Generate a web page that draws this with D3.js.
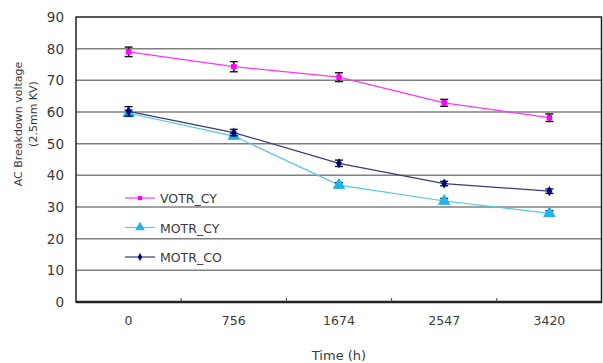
<!DOCTYPE html>
<html>
<head>
<meta charset="utf-8">
<script src="https://cdn.jsdelivr.net/npm/d3@7"></script>
<style>
  body { margin: 0; background: #fff; }
  text { font-family: "DejaVu Sans", sans-serif; fill: #3a3a3a; }
</style>
</head>
<body>
<div id="chart"></div>
<script>
// time points (h) and breakdown voltage per series
const times = ["0", "756", "1674", "2547", "3420"];
const seriesNames = ["VOTR_CY", "MOTR_CY", "MOTR_CO"];
const votrCY = [79.0, 74.3, 71.0, 62.9, 58.2];
const votrCYErr = [1.5, 1.6, 1.4, 1.1, 1.2];
const motrCY = [59.6, 52.4, 36.9, 31.9, 28.0];
const motrCYErr = [1.0, 0.8, 0.8, 0.8, 0.8];
const motrCO = [60.2, 53.5, 43.8, 37.4, 35.0];
const motrCOErr = [1.5, 1.0, 1.0, 0.7, 0.7];
const yTicks = [0, 10, 20, 30, 40, 50, 60, 70, 80, 90];

const width = 603, height = 363;
const margin = { top: 17, right: 1, bottom: 61, left: 76 };

const svg = d3.select("#chart").append("svg")
    .attr("width", width)
    .attr("height", height);

const x = d3.scaleBand()
    .domain(times)
    .range([margin.left, width - margin.right]);

const y = d3.scaleLinear()
    .domain([0, 90])
    .range([height - margin.bottom, margin.top]);

// horizontal gridlines
svg.append("g")
    .selectAll("line")
    .data(yTicks.filter(d => d > 0 && d < 90))
    .enter().append("line")
    .attr("x1", margin.left).attr("x2", width - margin.right)
    .attr("y1", d => y(d)).attr("y2", d => y(d))
    .attr("stroke", "#808080")
    .attr("stroke-width", 1.5);

// plot frame
svg.append("rect")
    .attr("x", margin.left)
    .attr("y", margin.top)
    .attr("width", width - margin.left - margin.right - 0.5)
    .attr("height", height - margin.top - margin.bottom)
    .attr("fill", "none")
    .attr("stroke", "#222")
    .attr("stroke-width", 1.5);

// bottom axis: ticks between categories, pointing up
const xAxis = svg.append("g")
    .attr("transform", `translate(0,${y(0)})`);
xAxis.append("line")
    .attr("x1", margin.left).attr("x2", width - margin.right)
    .attr("stroke", "#222").attr("stroke-width", 2.5);
xAxis.selectAll(".tick")
    .data(times.slice(1))
    .enter().append("line")
    .attr("x1", d => x(d)).attr("x2", d => x(d))
    .attr("y1", 0).attr("y2", -4)
    .attr("stroke", "#444");
xAxis.selectAll(".lbl")
    .data(times)
    .enter().append("text")
    .attr("x", d => x(d) + x.bandwidth() / 2)
    .attr("y", 23)
    .attr("text-anchor", "middle")
    .style("font-size", "12.5px")
    .text(d => d);

// y tick labels
svg.append("g")
    .selectAll("text")
    .data(yTicks)
    .enter().append("text")
    .attr("x", margin.left - 12)
    .attr("y", d => y(d) + 5)
    .attr("text-anchor", "end")
    .style("font-size", "13.5px")
    .text(d => d);

// axis titles
svg.append("text")
    .attr("x", x("1674") + x.bandwidth() / 2)
    .attr("y", 360)
    .attr("text-anchor", "middle")
    .style("font-size", "13px")
    .text("Time (h)");

const yTitle = svg.append("text")
    .attr("transform", "translate(22,124) rotate(-90)")
    .attr("text-anchor", "middle")
    .style("font-size", "11px");
yTitle.append("tspan").attr("x", 0).attr("dy", 0).text("AC Breakdown voltage");
yTitle.append("tspan").attr("x", 10).attr("dy", 15).text("(2.5mm KV)");

const series = [
    { name: seriesNames[0], values: votrCY, err: votrCYErr, line: "#ff33ff", fill: "#ff00ff", symbol: d3.symbolSquare, size: 30 },
    { name: seriesNames[1], values: motrCY, err: motrCYErr, line: "#55c8dc", fill: "#22b2ee", symbol: d3.symbolTriangle, size: 70 },
    { name: seriesNames[2], values: motrCO, err: motrCOErr, line: "#3a3a78", fill: "#000080", symbol: d3.symbolDiamond, size: 30 }
];

const cx = d => x(d) + x.bandwidth() / 2;
const line = d3.line()
    .x((v, i) => cx(times[i]))
    .y(v => y(v));

series.forEach(s => {
    const g = svg.append("g");
    g.append("path")
        .attr("d", line(s.values))
        .attr("fill", "none")
        .attr("stroke", s.line)
        .attr("stroke-width", 1.2);

    // error bars
    const eb = g.selectAll(".e")
        .data(s.values)
        .enter().append("g")
        .attr("stroke", "#111")
        .attr("stroke-width", 1.4);
    eb.append("line")
        .attr("x1", (v, i) => cx(times[i])).attr("x2", (v, i) => cx(times[i]))
        .attr("y1", (v, i) => y(v + s.err[i])).attr("y2", (v, i) => y(v - s.err[i]));
    eb.append("line")
        .attr("x1", (v, i) => cx(times[i]) - 4).attr("x2", (v, i) => cx(times[i]) + 4)
        .attr("y1", (v, i) => y(v + s.err[i])).attr("y2", (v, i) => y(v + s.err[i]));
    eb.append("line")
        .attr("x1", (v, i) => cx(times[i]) - 4).attr("x2", (v, i) => cx(times[i]) + 4)
        .attr("y1", (v, i) => y(v - s.err[i])).attr("y2", (v, i) => y(v - s.err[i]));

    // markers
    g.selectAll(".m")
        .data(s.values)
        .enter().append("path")
        .attr("transform", (v, i) => `translate(${cx(times[i])},${y(v)})`)
        .attr("d", d3.symbol().type(s.symbol).size(s.size))
        .attr("fill", s.fill);
});

// legend
const legend = svg.append("g")
    .attr("transform", "translate(125,198)");
const items = legend.selectAll(".item")
    .data(series)
    .enter().append("g")
    .attr("transform", (d, i) => `translate(0,${i * 29.5})`);
items.append("line")
    .attr("x1", 0).attr("x2", 30)
    .attr("stroke", d => d.line)
    .attr("stroke-width", 1.2);
items.append("path")
    .attr("transform", "translate(15,0)")
    .attr("d", d => d3.symbol().type(d.symbol).size(d.size * 0.6)())
    .attr("fill", d => d.fill);
items.append("text")
    .attr("x", 35)
    .attr("y", 5)
    .style("font-size", "12.5px")
    .text(d => d.name);
</script>
</body>
</html>
